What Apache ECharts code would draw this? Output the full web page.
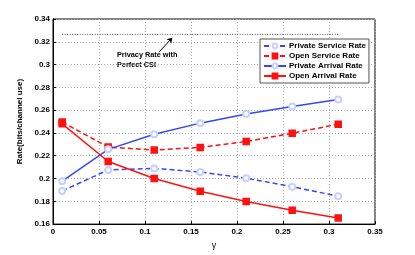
<!DOCTYPE html>
<html><head><meta charset="utf-8">
<script src="https://cdn.jsdelivr.net/npm/echarts@6/dist/echarts.min.js"></script>
<style>html,body{margin:0;padding:0;background:#fff}#c{width:415px;height:255px}</style>
</head><body><div id="c"></div>
<script>
const gammaVals = [0.01, 0.06, 0.11, 0.16, 0.21, 0.26, 0.31];
const privateService = [0.1891, 0.2075, 0.2089, 0.2057, 0.2003, 0.1928, 0.1845];
const openService = [0.2495, 0.2276, 0.2250, 0.2273, 0.2325, 0.2397, 0.2477];
const privateArrival = [0.1977, 0.2256, 0.2388, 0.2486, 0.2566, 0.2632, 0.2693];
const openArrival = [0.2480, 0.2149, 0.2000, 0.1888, 0.1799, 0.1721, 0.1654];
const privacyX = [0.01, 0.31];
const privacyRate = 0.3265;
const arrowFrom = [0.1156, 0.3113];
const arrowTo = [0.1296, 0.3235];
const names = ['Private Service Rate', 'Open Service Rate', 'Private Arrival Rate', 'Open Arrival Rate'];

const BLUE = '#3347ff', RED = '#ff1111';
const F = 'Liberation Sans, Arial, sans-serif';
const pairs = a => gammaVals.map((g, i) => [g, a[i]]);
const mk = (name, data, color, dashed, sym) => ({
  name, type: 'line', data: pairs(data), symbol: sym, symbolSize: 6,
  lineStyle: { color, width: 1.5, type: dashed ? [5, 3] : 'solid' },
  itemStyle: { color: sym === 'rect' ? color : '#c8d0ff', borderColor: color, borderWidth: 1.5 },
  animation: false, z: 3
});
const chart = echarts.init(document.getElementById('c'));
chart.setOption({
  animation: false,
  grid: { left: 53, right: 40, top: 19, bottom: 29, show: true, borderColor: '#000', borderWidth: 1 },
  xAxis: {
    type: 'value', min: 0, max: 0.35, interval: 0.05,
    name: 'γ', nameLocation: 'middle', nameGap: 15,
    nameTextStyle: { fontFamily: F, fontSize: 9, color: '#000' },
    axisLine: { lineStyle: { color: '#000' } },
    axisTick: { inside: true, length: 3, lineStyle: { color: '#000' } },
    axisLabel: { fontFamily: F, fontSize: 8, fontWeight: 'bold', color: '#000', margin: 4,
      formatter: v => +v.toFixed(2) + '' },
    splitLine: { lineStyle: { color: '#aaa', type: [1, 2], width: 1 } }
  },
  yAxis: {
    type: 'value', min: 0.16, max: 0.34, interval: 0.02,
    name: 'Rate(bits/channel use)', nameLocation: 'middle', nameGap: 20,
    nameTextStyle: { fontFamily: F, fontSize: 8, fontWeight: 'bold', color: '#000' },
    axisLine: { lineStyle: { color: '#000' } },
    axisTick: { inside: true, length: 3, lineStyle: { color: '#000' } },
    axisLabel: { fontFamily: F, fontSize: 8, fontWeight: 'bold', color: '#000', margin: 3,
      formatter: v => +v.toFixed(2) + '' },
    splitLine: { lineStyle: { color: '#aaa', type: [1, 2], width: 1 } }
  },
  legend: {
    data: names, orient: 'vertical', left: 260, top: 39, itemGap: 2,
    itemWidth: 22, itemHeight: 6, padding: [3, 3, 3, 3],
    backgroundColor: '#fff', borderColor: '#555', borderWidth: 1,
    textStyle: { fontFamily: F, fontSize: 8, fontWeight: 'bold', color: '#000', padding: [0,0,0,-2] }
  },
  graphic: [{
    type: 'text', left: 117, top: 50,
    style: { text: 'Privacy Rate with\nPerfect CSI', font: 'bold 7.3px ' + F, fill: '#000', lineHeight: 10 }
  }],
  series: [
    mk(names[0], privateService, BLUE, true, 'emptyCircle'),
    mk(names[1], openService, RED, true, 'rect'),
    mk(names[2], privateArrival, BLUE, false, 'emptyCircle'),
    mk(names[3], openArrival, RED, false, 'rect'),
    {
      name: 'Privacy', type: 'line', symbol: 'none', data: privacyX.map(x => [x, privacyRate]),
      lineStyle: { color: '#555', width: 1, type: [1, 1.5] },
      markLine: {
        silent: true, symbol: ['none', 'arrow'], symbolSize: 5, label: { show: false },
        lineStyle: { color: '#000', width: 1, type: 'solid' },
        data: [[{ coord: arrowFrom }, { coord: arrowTo }]]
      }
    }
  ]
});
</script></body></html>
